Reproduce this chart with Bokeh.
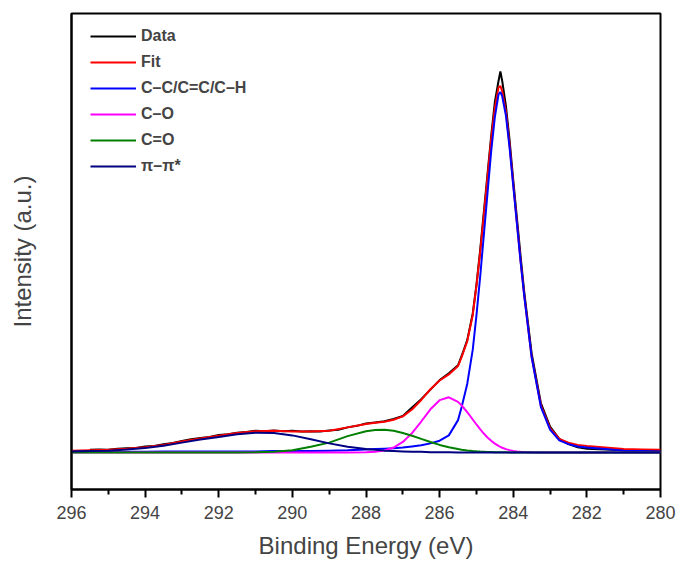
from bokeh.plotting import figure
from bokeh.models import Range1d, FixedTicker, Legend, LegendItem
from bokeh.embed import file_html
from bokeh.resources import INLINE

# ---- data (binding energy in eV, intensity normalised) ----
energy = [296.0, 295.5, 295.0, 294.5, 294.0, 293.5, 293.0, 292.5, 292.0, 291.5,
          291.0, 290.5, 290.0, 289.5, 289.0, 288.5, 288.0, 287.75, 287.5, 287.25,
          287.0, 286.75, 286.5, 286.25, 286.0, 285.75, 285.5, 285.4, 285.25, 285.1, 285.0,
          284.9, 284.8, 284.7, 284.6, 284.5, 284.4, 284.35, 284.3, 284.2, 284.1,
          284.0, 283.9, 283.8, 283.7, 283.6, 283.5, 283.25, 283.0, 282.75, 282.5,
          282.25, 282.0, 281.5, 281.0, 280.5, 280.0]

fit = [0.005, 0.006, 0.007, 0.010, 0.014, 0.020, 0.029, 0.037, 0.044, 0.051,
       0.056, 0.057, 0.055, 0.055, 0.057, 0.066, 0.075, 0.078, 0.081, 0.086,
       0.095, 0.113, 0.138, 0.166, 0.189, 0.205, 0.227, 0.251, 0.292, 0.361, 0.437,
       0.524, 0.622, 0.722, 0.822, 0.904, 0.958, 0.962, 0.948, 0.895, 0.807,
       0.705, 0.603, 0.502, 0.411, 0.331, 0.251, 0.124, 0.064, 0.036, 0.026,
       0.020, 0.017, 0.013, 0.009, 0.008, 0.007]

cc = [0.002, 0.002, 0.002, 0.002, 0.002, 0.0025, 0.003, 0.003, 0.003, 0.003,
      0.003, 0.004, 0.004, 0.004, 0.005, 0.006, 0.008, 0.009, 0.010, 0.011,
      0.013, 0.016, 0.019, 0.024, 0.031, 0.045, 0.085, 0.120, 0.180, 0.270, 0.360,
      0.460, 0.570, 0.680, 0.790, 0.880, 0.940, 0.946, 0.935, 0.885, 0.800,
      0.700, 0.600, 0.500, 0.410, 0.330, 0.250, 0.120, 0.060, 0.032, 0.022,
      0.016, 0.013, 0.009, 0.005, 0.004, 0.003]

co = [0.0, 0.0, 0.0, 0.0, 0.0, 0.0, 0.0, 0.0, 0.0, 0.0,
      0.0, 0.0, 0.0, 0.0, 0.0, 0.0001, 0.0006, 0.0019, 0.0054, 0.0131,
      0.0277, 0.0509, 0.0814, 0.1134, 0.1374, 0.145, 0.1329, 0.1234, 0.1061, 0.0867, 0.0736,
      0.0612, 0.0498, 0.0396, 0.0308, 0.0234, 0.0174, 0.015, 0.0126, 0.0090, 0.0063,
      0.0043, 0.0028, 0.0018, 0.0012, 0.0007, 0.0005, 0.0001, 0.0, 0.0, 0.0,
      0.0, 0.0, 0.0, 0.0, 0.0, 0.0]

c_o = [0.0, 0.0, 0.0, 0.0, 0.0, 0.0, 0.0, 0.0, 0.0, 0.0002,
       0.001, 0.002, 0.006, 0.015, 0.026, 0.043, 0.056, 0.0594, 0.0597, 0.0569,
       0.0514, 0.0440, 0.0357, 0.0275, 0.0200, 0.0138, 0.0091, 0.0075, 0.0056, 0.0041, 0.0033,
       0.0026, 0.0021, 0.0016, 0.0013, 0.0010, 0.0007, 0.0006, 0.0006, 0.0005, 0.0004,
       0.0003, 0.0002, 0.0002, 0.0001, 0.0001, 0.0, 0.0, 0.0, 0.0, 0.0,
       0.0, 0.0, 0.0, 0.0, 0.0, 0.0]

pi_pi = [0.003, 0.004, 0.005, 0.008, 0.012, 0.018, 0.026, 0.034, 0.041, 0.048,
         0.052, 0.051, 0.045, 0.035, 0.024, 0.015, 0.009, 0.007, 0.005, 0.004,
         0.003, 0.002, 0.002, 0.001, 0.001, 0.001, 0.0, 0.0, 0.0, 0.0, 0.0,
         0.0, 0.0, 0.0, 0.0, 0.0, 0.0, 0.0, 0.0, 0.0, 0.0,
         0.0, 0.0, 0.0, 0.0, 0.0, 0.0, 0.0, 0.0, 0.0, 0.0,
         0.0, 0.0, 0.0, 0.0, 0.0, 0.0]

data_energy = [295.5, 295.25, 295.0, 294.75, 294.5, 294.25, 294.0, 293.75, 293.5, 293.25,
               293.0, 292.75, 292.5, 292.25, 292.0, 291.75, 291.5, 291.25, 291.0, 290.75,
               290.5, 290.25, 290.0, 289.75, 289.5, 289.25, 289.0, 288.75, 288.5, 288.25,
               288.0, 287.75, 287.5, 287.25, 287.0, 286.75, 286.5, 286.25, 286.0, 285.75,
               285.5, 285.4, 285.25, 285.1, 285.0, 284.9, 284.8, 284.7, 284.6, 284.5, 284.4,
               284.35, 284.3, 284.2, 284.1, 284.0, 283.9, 283.8, 283.7, 283.6, 283.5,
               283.25, 283.0, 282.75, 282.5, 282.25, 282.0, 281.5, 281.0, 280.5, 280.0]

data = [0.007, 0.008, 0.007, 0.010, 0.011, 0.012, 0.016, 0.017, 0.022, 0.025,
        0.030, 0.035, 0.038, 0.041, 0.046, 0.048, 0.052, 0.054, 0.057, 0.056,
        0.058, 0.056, 0.057, 0.055, 0.056, 0.055, 0.058, 0.060, 0.066, 0.070,
        0.076, 0.079, 0.082, 0.088, 0.096, 0.118, 0.140, 0.165, 0.190, 0.208,
        0.229, 0.254, 0.295, 0.365, 0.440, 0.530, 0.630, 0.730, 0.830, 0.920, 0.975,
        1.000, 0.975, 0.910, 0.820, 0.715, 0.615, 0.515, 0.420, 0.340, 0.260,
        0.130, 0.068, 0.036, 0.022, 0.014, 0.010, 0.008, 0.006, 0.005, 0.005]

x_ticks = [296, 294, 292, 290, 288, 286, 284, 282, 280]
x_minor = [295, 293, 291, 289, 287, 285, 283, 281]

# ---- figure ----
p = figure(width=681, height=567, output_backend="svg", toolbar_location=None,
           x_range=Range1d(296, 280), y_range=Range1d(-0.097, 1.152),
           min_border_left=71, min_border_right=21, min_border_top=13,
           min_border_bottom=78)
p.background_fill_color = "white"
p.border_fill_color = "white"
p.grid.visible = False
p.outline_line_color = "black"
p.outline_line_width = 2

r_data = p.line(data_energy, data, line_color="black", line_width=2)
r_fit = p.line(energy, fit, line_color="#FF0000", line_width=2)
r_cc = p.line(energy, cc, line_color="#0000FF", line_width=2)
r_co = p.line(energy, co, line_color="#FF00FF", line_width=2)
r_c_o = p.line(energy, c_o, line_color="#008000", line_width=2)
r_pi = p.line(energy, pi_pi, line_color="#000080", line_width=2)

# x axis
xa = p.xaxis[0]
xa.ticker = FixedTicker(ticks=x_ticks, minor_ticks=x_minor)
xa.axis_label = "Binding Energy (eV)"
xa.axis_label_text_font = "Liberation Sans"
xa.axis_label_text_font_size = "24px"
xa.axis_label_text_font_style = "normal"
xa.axis_label_standoff = 10
xa.major_label_text_font = "Liberation Sans"
xa.major_label_text_font_size = "18px"
xa.major_label_standoff = 8
xa.axis_line_width = 2
xa.major_tick_line_width = 2
xa.minor_tick_line_width = 2
xa.major_tick_out = 8
xa.major_tick_in = 0
xa.minor_tick_out = 5
xa.minor_tick_in = 0

# y axis
ya = p.yaxis[0]
ya.ticker = FixedTicker(ticks=[])
ya.axis_label = "Intensity (a.u.)"
ya.axis_label_text_font = "Liberation Sans"
ya.axis_label_text_font_size = "24px"
ya.axis_label_text_font_style = "normal"
ya.axis_label_standoff = 36
ya.axis_line_width = 2
ya.major_tick_out = 0
ya.minor_tick_out = 0

legend = Legend(items=[
    LegendItem(label="Data", renderers=[r_data]),
    LegendItem(label="Fit", renderers=[r_fit]),
    LegendItem(label="C\u2013C/C=C/C\u2013H", renderers=[r_cc]),
    LegendItem(label="C\u2013O", renderers=[r_co]),
    LegendItem(label="C=O", renderers=[r_c_o]),
    LegendItem(label="\u03c0\u2013\u03c0*", renderers=[r_pi]),
], location=(19, 313))
legend.border_line_color = None
legend.background_fill_alpha = 0
legend.padding = 0
legend.margin = 0
legend.spacing = 6
legend.glyph_width = 46
legend.glyph_height = 20
legend.label_height = 20
legend.label_standoff = 5
legend.label_text_font = "Liberation Sans"
legend.label_text_font_size = "16px"
legend.label_text_font_style = "bold"
p.add_layout(legend)

open("out.html", "w").write(file_html(p, INLINE))
